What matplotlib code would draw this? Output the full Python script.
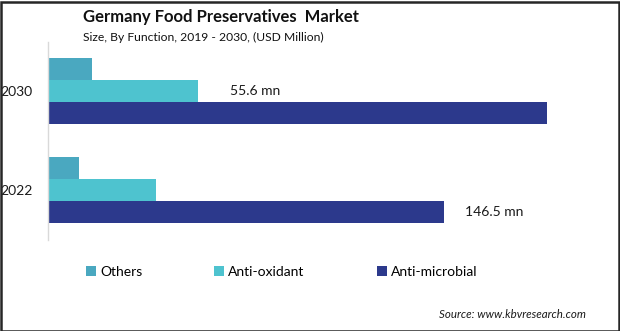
import matplotlib
matplotlib.use("Agg")
import matplotlib.pyplot as plt
from matplotlib.patches import Rectangle, Patch

# Market size by function (USD million)
years = ["2022", "2030"]
segments = ["Others", "Anti-oxidant", "Anti-microbial"]
others = [11.5, 16.3]
anti_oxidant = [40.0, 55.6]
anti_microbial = [146.5, 184.6]
colors = ["#4aa8c0", "#4ec3cf", "#2c398c"]

W, H = 620, 331
fig = plt.figure(figsize=(W / 100, H / 100), dpi=100)
plt.rcParams["font.family"] = ["Lato", "DejaVu Sans"]

# axes frame in pixel terms
left_px, right_px, top_px, bottom_px = 48, 600, 42, 240
ax = fig.add_axes([left_px / W, 1 - bottom_px / H,
                   (right_px - left_px) / W, (bottom_px - top_px) / H])

h = 22 / 99
ypos = [0, 1]
series = [others, anti_oxidant, anti_microbial]
offsets = [h, 0, -h]
for vals, off, col in zip(series, offsets, colors):
    ax.barh([y + off for y in ypos], vals, height=h, color=col, linewidth=0)

ax.set_xlim(0, (right_px - left_px) * 146.5 / 396)
ax.set_ylim(-50 / 99, 1 + 49 / 99)
ax.set_yticks(ypos)
ax.set_yticklabels(years, fontsize=10, color="#1a1a1a")
ax.tick_params(axis="y", length=0, pad=11)
ax.set_xticks([])
for s in ["top", "right", "bottom"]:
    ax.spines[s].set_visible(False)
ax.spines["left"].set_color("#d9d9d9")
ax.spines["left"].set_linewidth(1)

# value callouts
ax.annotate(f"{anti_oxidant[1]} mn", (anti_oxidant[1], 1), xytext=(23, 0),
            textcoords="offset points", va="center", ha="left",
            fontsize=10, color="#1a1a1a")
ax.annotate(f"{anti_microbial[0]} mn", (anti_microbial[0], -h), xytext=(15, 0),
            textcoords="offset points", va="center", ha="left",
            fontsize=10, color="#1a1a1a")

# titles
fig.text(83 / W, 1 - 17 / H, "Germany Food Preservatives  Market",
         fontsize=12, fontweight="bold", va="center", ha="left", color="#111111")
fig.text(83 / W, 1 - 37 / H, "Size, By Function, 2019 - 2030, (USD Million)",
         fontsize=8.7, va="center", ha="left", color="#111111")

# legend
handles = [Patch(facecolor=c, edgecolor="none") for c in colors]
fig.legend(handles, segments, loc="center left",
           bbox_to_anchor=(86 / W, 1 - 272 / H), ncol=3, frameon=False,
           fontsize=10, handlelength=0.7, handleheight=0.7,
           handletextpad=0.3, columnspacing=5.2, borderpad=0, borderaxespad=0)

fig.text(586 / W, 1 - 314 / H, "Source: www.kbvresearch.com",
         fontsize=8.3, style="italic", va="center", ha="right", color="#1a1a1a")

# outer frame
fig.patches.append(Rectangle((0.5 / W, 0.5 / H), (W - 2) / W, (H - 2.5) / H,
                             transform=fig.transFigure, fill=False,
                             edgecolor="#262626", linewidth=1.8))

fig.savefig("out.png", dpi=100)
